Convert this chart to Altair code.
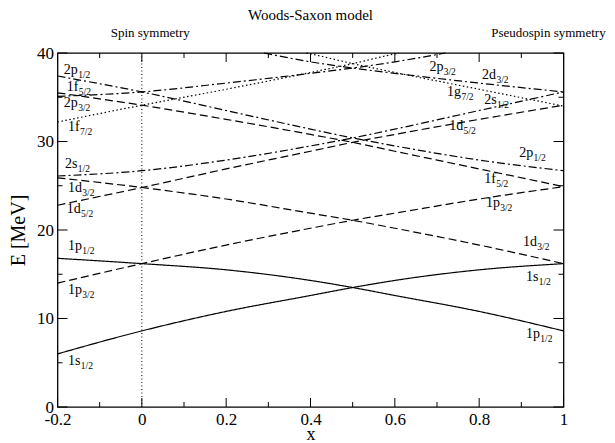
import altair as alt
import pandas as pd

SERIF = "Liberation Serif"

# ---------------- data ----------------
X_STD = [-0.2, 0.0, 0.2, 0.4, 0.5, 0.6, 0.8, 1.0]

s1s12_E = [6.0, 8.6, 10.8, 12.6, 13.5, 14.3, 15.5, 16.2]
s1p12_E = [16.8, 16.2, 15.5, 14.3, 13.5, 12.6, 10.8, 8.6]
s1p32_E = [14.0, 16.2, 18.3, 20.2, 21.1, 21.9, 23.5, 24.9]
s1d32_E = [25.9, 24.8, 23.5, 21.9, 21.1, 20.2, 18.3, 16.2]
s1d52_E = [22.8, 24.8, 26.9, 28.9, 29.9, 30.8, 32.5, 34.1]
s1f52_E = [35.5, 34.1, 32.5, 30.8, 29.9, 28.9, 26.9, 24.9]
s2s12_E = [26.1, 26.7, 27.9, 29.5, 30.4, 31.4, 33.5, 35.6]
s2p12_E = [37.4, 35.6, 33.5, 31.4, 30.4, 29.5, 27.9, 26.7]

s2p32_x = [-0.2, 0.0, 0.2, 0.4, 0.5, 0.6, 0.72]
s2p32_E = [35.1, 35.6, 36.6, 37.7, 38.3, 39.0, 40.0]
s2d32_x = [0.29, 0.4, 0.5, 0.6, 0.8, 1.0]
s2d32_E = [40.0, 39.0, 38.3, 37.7, 36.6, 35.6]
s1f72_x = [-0.2, 0.0, 0.2, 0.4, 0.5, 0.6, 0.61]
s1f72_E = [32.2, 34.1, 35.9, 37.8, 38.8, 39.9, 40.0]
s1g72_x = [0.39, 0.4, 0.5, 0.6, 0.8, 1.0]
s1g72_E = [40.0, 39.9, 38.8, 37.8, 35.9, 34.0]

# state name, style, x values, E values
series = [
    ("1s1/2", "solid", X_STD, s1s12_E),
    ("1p1/2", "solid", X_STD, s1p12_E),
    ("1p3/2", "dashed", X_STD, s1p32_E),
    ("1d3/2", "dashed", X_STD, s1d32_E),
    ("1d5/2", "dashed", X_STD, s1d52_E),
    ("1f5/2", "dashed", X_STD, s1f52_E),
    ("2s1/2", "dashdot", X_STD, s2s12_E),
    ("2p1/2", "dashdot", X_STD, s2p12_E),
    ("2p3/2", "dashdot", s2p32_x, s2p32_E),
    ("2d3/2", "dashdot", s2d32_x, s2d32_E),
    ("1f7/2", "dotted", s1f72_x, s1f72_E),
    ("1g7/2", "dotted", s1g72_x, s1g72_E),
]

# level labels: main part, subscript, x, E (text baseline)
lab_main = ["2p", "1f", "2p", "1f", "2s", "1d", "1d", "1p", "1p", "1s",
            "2p", "2d", "1g", "2s", "1d", "2p", "1f", "1p", "1d", "1s", "1p"]
lab_sub = ["1/2", "5/2", "3/2", "7/2", "1/2", "3/2", "5/2", "1/2", "3/2", "1/2",
           "3/2", "3/2", "7/2", "1/2", "5/2", "1/2", "5/2", "3/2", "3/2", "1/2", "1/2"]
lab_x = [-0.185, -0.178, -0.185, -0.175, -0.182, -0.175, -0.178, -0.175, -0.175, -0.175,
         0.682, 0.807, 0.724, 0.812, 0.729, 0.895, 0.812, 0.816, 0.904, 0.911, 0.911]
lab_E = [37.6, 35.7, 33.9, 31.2, 27.0, 24.3, 21.9, 17.7, 12.8, 4.7,
         38.0, 37.1, 35.1, 34.2, 31.3, 28.2, 25.3, 22.6, 18.2, 14.2, 7.8]

x_major = [-0.2, 0.0, 0.2, 0.4, 0.6, 0.8, 1.0]
x_minor = [-0.1, 0.1, 0.3, 0.5, 0.7, 0.9]
y_major = [0, 10, 20, 30, 40]
y_minor = [5, 15, 25, 35]

title_text = "Woods-Saxon model"
annot_text = ["Spin symmetry", "Pseudospin symmetry"]
annot_x = [0.02, 1.1]
annot_align = ["center", "right"]

# ---------------- tables ----------------
rows = []
for name, style, xs, es in series:
    for xv, ev in zip(xs, es):
        rows.append({"state": name, "style": style, "x": xv, "E": ev})
lines_df = pd.DataFrame(rows)

labels_df = pd.DataFrame({"main": lab_main, "sub": lab_sub, "x": lab_x, "E": lab_E})

W, H = 506, 354
xscale = alt.Scale(domain=[-0.2, 1.0], nice=False, zero=False)
yscale = alt.Scale(domain=[0, 40], nice=False, zero=False)

xaxis = alt.Axis(values=x_major, ticks=False, domain=False, grid=False,
                 labelExpr="replace(format(datum.value, '.1~f'), '\u2212', '-')",
                 labelFlush=False, labelOverlap=False, labelPadding=4,
                 title="x", titlePadding=-2, titleFontSize=18)
yaxis = alt.Axis(values=y_major, ticks=False, domain=False, grid=False,
                 format="d", labelFlush=False, labelOverlap=False, labelPadding=4,
                 title="E [MeV]", titlePadding=8)

base = alt.Chart(lines_df)

lines = base.mark_line(color="black", strokeWidth=1.2, interpolate="monotone").encode(
    x=alt.X("x:Q", scale=xscale, axis=xaxis),
    y=alt.Y("E:Q", scale=yscale, axis=yaxis),
    detail="state:N",
    strokeDash=alt.StrokeDash(
        "style:N",
        scale=alt.Scale(domain=["solid", "dashed", "dashdot", "dotted"],
                        range=[[1, 0], [8, 4], [8, 3, 2, 3], [1.5, 2.5]]),
        legend=None,
    ),
)

vline = alt.Chart(pd.DataFrame({"x": [0.0]})).mark_rule(
    color="black", strokeWidth=1, strokeDash=[1, 2.5]
).encode(x=alt.X("x:Q", scale=xscale), y=alt.value(0), y2=alt.value(H))

# ticks pointing inward on all four sides
def xticks(vals, length):
    d = pd.DataFrame({"x": vals})
    bottom = alt.Chart(d).mark_rule(color="black", strokeWidth=1).encode(
        x=alt.X("x:Q", scale=xscale), y=alt.value(H), y2=alt.value(H - length))
    top = alt.Chart(d).mark_rule(color="black", strokeWidth=1).encode(
        x=alt.X("x:Q", scale=xscale), y=alt.value(0), y2=alt.value(length))
    return bottom + top

def yticks(vals, length):
    d = pd.DataFrame({"E": vals})
    left = alt.Chart(d).mark_rule(color="black", strokeWidth=1).encode(
        y=alt.Y("E:Q", scale=yscale), x=alt.value(0), x2=alt.value(length))
    right = alt.Chart(d).mark_rule(color="black", strokeWidth=1).encode(
        y=alt.Y("E:Q", scale=yscale), x=alt.value(W), x2=alt.value(W - length))
    return left + right

ticks = xticks(x_major, 9) + xticks(x_minor, 5) + yticks(y_major, 10) + yticks(y_minor, 5)

main_text = alt.Chart(labels_df).mark_text(
    font=SERIF, fontSize=14, align="left", baseline="alphabetic", color="black"
).encode(x=alt.X("x:Q", scale=xscale), y=alt.Y("E:Q", scale=yscale), text="main:N")

# subscripts, offset by the width of the main text
char_w = {"1": 0.5, "2": 0.5, "p": 0.5, "d": 0.5, "g": 0.5, "s": 0.389, "f": 0.333}
labels_df["w"] = labels_df["main"].map(lambda s: round(sum(char_w[c] for c in s) * 14, 1))
sub_layers = []
for wv in sorted(labels_df["w"].unique()):
    sub_layers.append(
        alt.Chart(labels_df[labels_df["w"] == wv]).mark_text(
            font=SERIF, fontSize=9.5, align="left", baseline="alphabetic",
            color="black", dx=float(wv) + 0.3, dy=4
        ).encode(x=alt.X("x:Q", scale=xscale), y=alt.Y("E:Q", scale=yscale), text="sub:N")
    )

annot_df = pd.DataFrame({"t": annot_text, "x": annot_x, "a": annot_align})
annots = []
for t, xv, a in zip(annot_text, annot_x, annot_align):
    annots.append(
        alt.Chart(annot_df[annot_df["t"] == t]).mark_text(
            font=SERIF, fontSize=13, align=a, baseline="alphabetic", color="black"
        ).encode(x=alt.X("x:Q", scale=xscale), y=alt.value(-16), text="t:N")
    )

title_mark = alt.Chart(pd.DataFrame({"t": [title_text], "x": [0.4]})).mark_text(
    font=SERIF, fontSize=15, align="center", baseline="top", color="black"
).encode(x=alt.X("x:Q", scale=xscale), y=alt.value(-45), text="t:N")

chart = alt.layer(vline, lines, ticks, main_text, *sub_layers, *annots, title_mark).properties(
    width=W, height=H,
    autosize=alt.AutoSizeParams(type="none"),
    padding={"left": 49.5, "top": 45, "right": 43, "bottom": 40},
).configure_view(stroke="black", strokeWidth=1.3).configure_axis(
    labelFont=SERIF, labelFontSize=17, labelColor="black",
    titleFont=SERIF, titleFontSize=20, titleFontWeight="normal", titleColor="black",
)

chart.save("out.html", embed_options={"renderer": "svg", "actions": False})
